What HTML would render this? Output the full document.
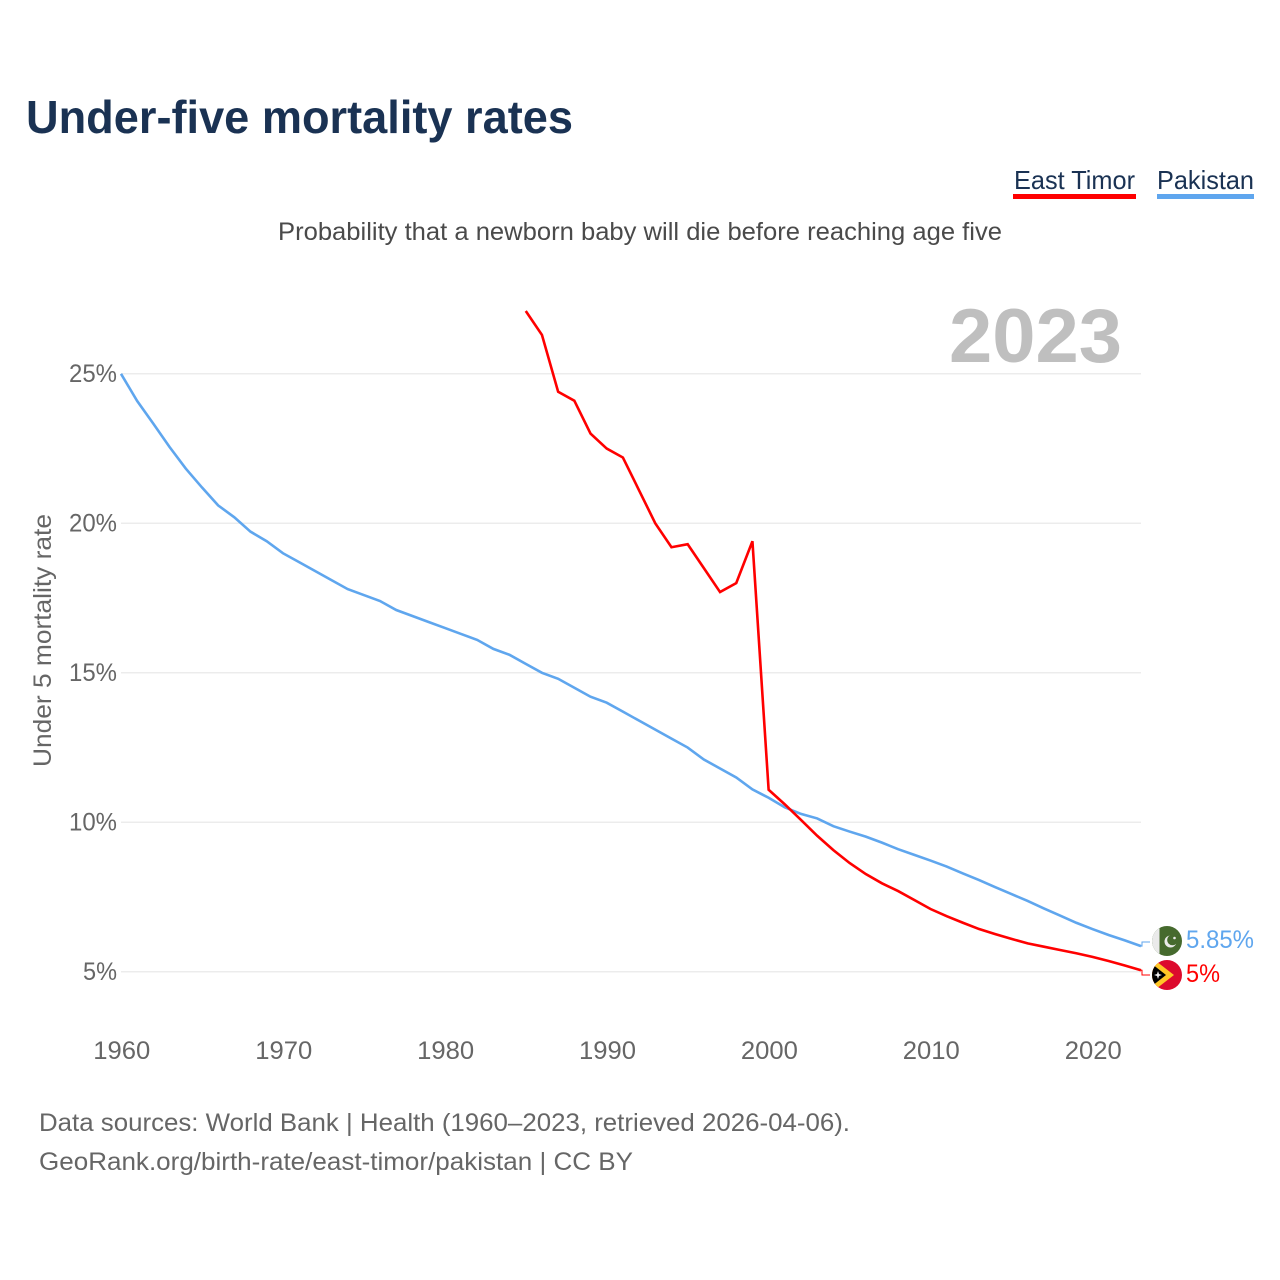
<!DOCTYPE html>
<html lang="en">
<head>
<meta charset="utf-8">
<title>Under-five mortality rates</title>
<style>
  html,body{margin:0;padding:0;background:#fff;width:1280px;height:1280px;overflow:hidden}
  svg{display:block}
  text{font-family:"Liberation Sans",sans-serif}
</style>
</head>
<body>
<svg id="chart" xmlns="http://www.w3.org/2000/svg" width="1280" height="1280" viewBox="0 0 1280 1280">
  <rect width="1280" height="1280" fill="#fff"/>
  <text x="26" y="133" font-size="46" font-weight="700" fill="#1a3253" textLength="547" lengthAdjust="spacingAndGlyphs">Under-five mortality rates</text>

  <g>
    <text x="1014" y="189" font-size="26" fill="#1a3253" textLength="121" lengthAdjust="spacingAndGlyphs">East Timor</text>
    <rect x="1013" y="194" width="123" height="5" fill="#ff0000"/>
  </g>
  <g>
    <text x="1157" y="189" font-size="26" fill="#1a3253" textLength="97" lengthAdjust="spacingAndGlyphs">Pakistan</text>
    <rect x="1157" y="194" width="97" height="5" fill="#5fa6ee"/>
  </g>

  <text x="278" y="240" font-size="25" fill="#4a4a4a" textLength="724" lengthAdjust="spacingAndGlyphs">Probability that a newborn baby will die before reaching age five</text>
  <text transform="translate(51,767) rotate(-90)" font-size="25" fill="#666" textLength="253" lengthAdjust="spacingAndGlyphs">Under 5 mortality rate</text>

  <g id="grid"></g>
  <g id="yticks"></g>
  <g id="xticks"></g>

  <text x="949" y="362" font-size="76" font-weight="700" fill="#bfbfbf" textLength="173" lengthAdjust="spacingAndGlyphs">2023</text>

  <g id="series"></g>

  <g>
    <clipPath id="pk-clip"><circle cx="1167" cy="941" r="15"/></clipPath>
    <g clip-path="url(#pk-clip)">
      <rect x="1152" y="926" width="30" height="30" fill="#466a2e"/>
      <rect x="1152" y="926" width="7.5" height="30" fill="#eaeaea"/>
      <circle cx="1170.5" cy="941.5" r="6" fill="#eaeaea"/>
      <circle cx="1172.5" cy="940" r="5.3" fill="#466a2e"/>
      <circle cx="1174.5" cy="938" r="1.3" fill="#eaeaea"/>
    </g>
  </g>
  <g>
    <clipPath id="tl-clip"><circle cx="1167" cy="975" r="15"/></clipPath>
    <g clip-path="url(#tl-clip)">
      <rect x="1152" y="960" width="30" height="30" fill="#dc0a2d"/>
      <polygon points="1152,958 1174,975 1152,992" fill="#ffc726"/>
      <polygon points="1152,964 1166,975 1152,986" fill="#000"/>
      <polygon points="1158,971 1159,974 1162,975 1159,976 1158,979 1157,976 1154,975 1157,974" fill="#eee"/>
    </g>
  </g>

  <text id="label-pk" x="1186" y="948" font-size="25" fill="#5fa6ee" textLength="68" lengthAdjust="spacingAndGlyphs">5.85%</text>
  <text id="label-tl" x="1186" y="982" font-size="25" fill="#ff0000" textLength="34" lengthAdjust="spacingAndGlyphs">5%</text>

  <text x="39" y="1131" font-size="25" fill="#666" textLength="811" lengthAdjust="spacingAndGlyphs">Data sources: World Bank | Health (1960–2023, retrieved 2026-04-06).</text>
  <text x="39" y="1170" font-size="25" fill="#666" textLength="594" lengthAdjust="spacingAndGlyphs">GeoRank.org/birth-rate/east-timor/pakistan | CC BY</text>
</svg>

<script>
const yTickValues = [5, 10, 15, 20, 25];
const xTickYears = [1960, 1970, 1980, 1990, 2000, 2010, 2020];
const pakistanStartYear = 1960;
const pakistanValues = [25, 24.09, 23.33, 22.55, 21.83, 21.2, 20.6, 20.2, 19.72, 19.4,
  19.0, 18.7, 18.4, 18.1, 17.8, 17.6, 17.4, 17.1, 16.9, 16.7,
  16.5, 16.3, 16.1, 15.8, 15.6, 15.3, 15.0, 14.8, 14.5, 14.2,
  14.0, 13.7, 13.4, 13.1, 12.8, 12.5, 12.1, 11.8, 11.5, 11.1,
  10.82, 10.5, 10.28, 10.13, 9.87, 9.69, 9.52, 9.32, 9.1, 8.91,
  8.72, 8.52, 8.29, 8.07, 7.83, 7.6, 7.37, 7.12, 6.88, 6.64,
  6.43, 6.23, 6.05, 5.86];
const eastTimorStartYear = 1985;
const eastTimorValues = [27.1, 26.3, 24.4, 24.1, 23.0, 22.5, 22.2, 21.1, 20.0, 19.2,
  19.3, 18.5, 17.7, 18.0, 19.4, 11.09, 10.6, 10.08, 9.55, 9.07,
  8.64, 8.27, 7.96, 7.7, 7.4, 7.1, 6.86, 6.64, 6.43, 6.26,
  6.1, 5.95, 5.84, 5.73, 5.62, 5.5, 5.36, 5.21, 5.05];

const NS = 'http://www.w3.org/2000/svg';
function xScale(year) { return 121 + (year - 1960) * (1141 - 121) / 63; }
function yScale(v) { return 971.8 - (v - 5) * (971.8 - 373.8) / 20; }

const grid = document.getElementById('grid');
const yticks = document.getElementById('yticks');
const xticks = document.getElementById('xticks');
const series = document.getElementById('series');

yTickValues.forEach(function (v) {
  const line = document.createElementNS(NS, 'line');
  
  
  line.setAttribute('x1', 121);
  line.setAttribute('x2', 1141);
  line.setAttribute('y1', yScale(v));
  line.setAttribute('y2', yScale(v));
  line.setAttribute('stroke', '#ececec');
  line.setAttribute('stroke-width', '1.5');
  grid.appendChild(line);

  const t = document.createElementNS(NS, 'text');
  
  
  t.setAttribute('x', 117);
  t.setAttribute('y', yScale(v) + 8.2);
  t.setAttribute('text-anchor', 'end');
  t.setAttribute('font-size', '25');
  t.setAttribute('fill', '#666');
  t.setAttribute('textLength', v < 10 ? 34 : 48);
  t.setAttribute('lengthAdjust', 'spacingAndGlyphs');
  t.textContent = v + '%';
  yticks.appendChild(t);
});

xTickYears.forEach(function (y) {
  const t = document.createElementNS(NS, 'text');
  
  
  t.setAttribute('x', xScale(y) + 0.8);
  t.setAttribute('y', 1059);
  t.setAttribute('text-anchor', 'middle');
  t.setAttribute('font-size', '25');
  t.setAttribute('fill', '#666');
  t.setAttribute('textLength', 57);
  t.setAttribute('lengthAdjust', 'spacingAndGlyphs');
  t.textContent = y;
  xticks.appendChild(t);
});

function linePoints(startYear, values) {
  return values.map(function (v, i) {
    return xScale(startYear + i).toFixed(2) + ',' + yScale(v).toFixed(2);
  }).join(' ');
}

const pkLine = document.createElementNS(NS, 'polyline');


pkLine.setAttribute('points', linePoints(pakistanStartYear, pakistanValues));
pkLine.setAttribute('fill', 'none');
pkLine.setAttribute('stroke', '#5fa6ee');
pkLine.setAttribute('stroke-width', '2.6');
series.appendChild(pkLine);

const tlLine = document.createElementNS(NS, 'polyline');


tlLine.setAttribute('points', linePoints(eastTimorStartYear, eastTimorValues));
tlLine.setAttribute('fill', 'none');
tlLine.setAttribute('stroke', '#ff0000');
tlLine.setAttribute('stroke-width', '2.6');
series.appendChild(tlLine);

function connector(name, color, value, labelY) {
  const x0 = xScale(2023);
  const y0 = yScale(value);
  const p = document.createElementNS(NS, 'polyline');
  
  
  p.setAttribute('points', x0 + ',' + y0 + ' ' + (x0 + 1) + ',' + y0 + ' ' + (x0 + 1) + ',' + labelY + ' ' + (x0 + 9) + ',' + labelY);
  p.setAttribute('fill', 'none');
  p.setAttribute('stroke', color);
  p.setAttribute('stroke-width', '1');
  series.appendChild(p);
}
connector('connector-pakistan', '#5fa6ee', pakistanValues[pakistanValues.length - 1], 942);
connector('connector-east-timor', '#ff0000', eastTimorValues[eastTimorValues.length - 1], 975);
</script>
</body>
</html>
